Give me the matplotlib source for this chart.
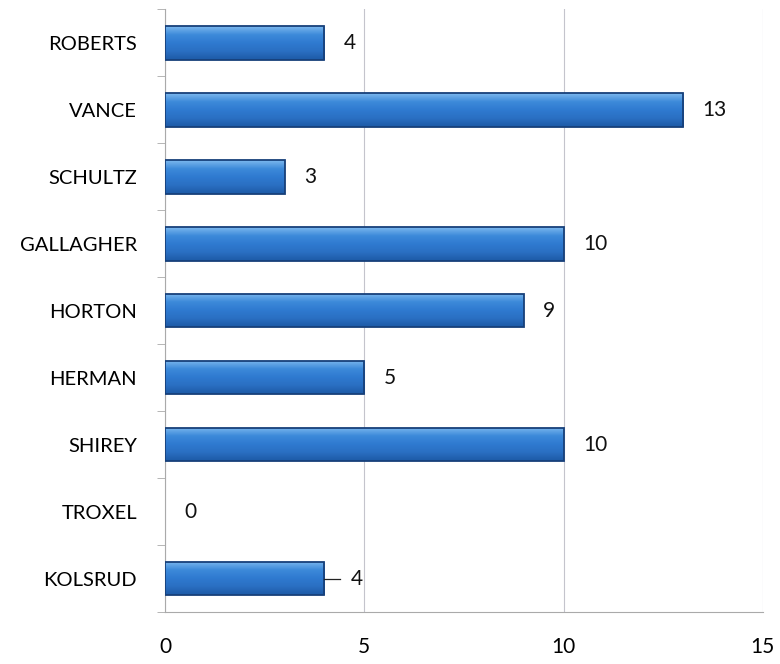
import matplotlib
matplotlib.use("Agg")
import matplotlib.pyplot as plt
import numpy as np

# ── data ──────────────────────────────────────────────────────────────────────
names = ["ROBERTS", "VANCE", "SCHULTZ", "GALLAGHER", "HORTON",
         "HERMAN", "SHIREY", "TROXEL", "KOLSRUD"]
counts = [4, 13, 3, 10, 9, 5, 10, 0, 4]
x_ticks = [0, 5, 10, 15]

plt.rcParams["font.family"] = ["Lato", "DejaVu Sans"]

fig = plt.figure(figsize=(7.8, 6.64), dpi=100)
ax = fig.add_axes([0.2115, 0.078, 0.7665, 0.908])

pos = np.arange(len(names))
bars = ax.barh(pos, counts, height=0.5, color="#2f78cc",
               edgecolor="none", linewidth=0, zorder=3)

# fake the bevelled Excel look with a vertical gradient clipped to each bar
grad = np.linspace(0, 1, 64).reshape(-1, 1)
cmap = matplotlib.colors.LinearSegmentedColormap.from_list(
    "bev", ["#7cb8ee", "#3d8ada", "#2f7ad0", "#2a6fc2", "#1d5aa6"])
for b in bars:
    if b.get_width() <= 0:
        continue
    x0, y0 = b.get_x(), b.get_y()
    # y axis is inverted, so row 0 of the image sits at the top of the bar
    im = ax.imshow(grad, extent=(x0, x0 + b.get_width(), y0 + b.get_height(), y0),
                   cmap=cmap, aspect="auto", origin="upper", zorder=3.5)
    im.set_clip_path(b)
    ax.add_patch(plt.Rectangle((x0, y0), b.get_width(), b.get_height(),
                               fill=False, edgecolor="#17407a", lw=1.3, zorder=4))

# value labels
for p, v in zip(pos, counts):
    if p == len(names) - 1:
        ax.plot([v, v + 0.4], [p, p], color="#222222", lw=0.9, zorder=4)
        ax.annotate(str(v), (v, p), xytext=(19, 0), textcoords="offset points",
                    ha="left", va="center", fontsize=15, color="#111111")
    else:
        ax.annotate(str(v), (v, p), xytext=(14, 0), textcoords="offset points",
                    ha="left", va="center", fontsize=15, color="#111111")

ax.set_xlim(0, 15)
ax.set_ylim(len(names) - 0.5, -0.5)
ax.set_xticks(x_ticks)
ax.set_xticklabels([str(t) for t in x_ticks], fontsize=15)
ax.set_yticks(pos)
ax.set_yticklabels(names, fontsize=14.5)
ax.tick_params(axis="y", length=0, pad=20)
ax.tick_params(axis="x", length=0, pad=18)

# category boundary ticks on the y axis
ax.set_yticks(np.arange(-0.5, len(names), 1.0), minor=True)
ax.tick_params(axis="y", which="minor", length=6, color="#aaaaaa", direction="out")
ax.set_xticks(x_ticks, minor=True)
ax.tick_params(axis="x", which="minor", length=6, color="#aaaaaa", direction="out")

ax.grid(axis="x", color="#c4c4cc", lw=0.8, zorder=0)
for s in ["top", "right"]:
    ax.spines[s].set_visible(False)
ax.spines["left"].set_color("#aaaaaa")
ax.spines["bottom"].set_color("#aaaaaa")

fig.savefig("out.png", dpi=100)
